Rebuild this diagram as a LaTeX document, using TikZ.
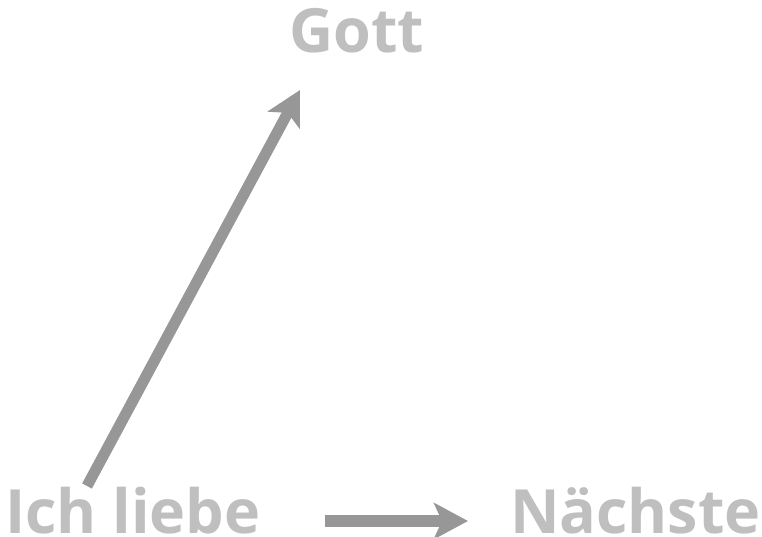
\documentclass[tikz,border=0pt]{standalone}
\usepackage{fontspec}
\setmainfont{Open Sans}
\usetikzlibrary{arrows.meta}
\definecolor{txtgray}{HTML}{BFBFBF}
\definecolor{arrgray}{HTML}{979797}
\tikzset{
  lbl/.style={text=txtgray, font=\fontsize{61}{63}\selectfont\bfseries, inner sep=0pt},
  arr/.style={draw=arrgray, line width=11pt, -{Stealth[length=34pt, width=36pt, inset=8pt]}},
}
\begin{document}
\begin{tikzpicture}[x=1pt,y=-1pt]
\useasboundingbox (0,0) rectangle (762,537);
\node[lbl, anchor=base] (gott) at (357,53) {Gott};
\node[lbl, anchor=base west] (ich) at (5,533) {Ich liebe};
\node[lbl, anchor=base east] (naechste) at (761,533) {Nächste};
\coordinate (d1) at (87,486);
\coordinate (d2) at (300,90);
\coordinate (h1) at (325,521);
\coordinate (h2) at (468,521);
\draw[arr] (d1) -- (d2);
\draw[arr, line width=12pt] (h1) -- (h2);
\end{tikzpicture}
\end{document}
